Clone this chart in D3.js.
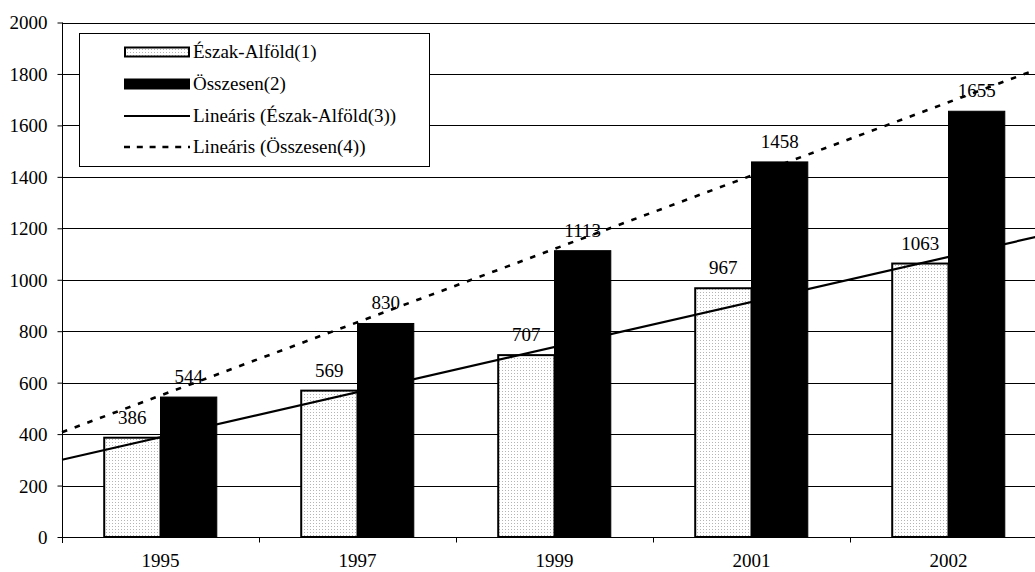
<!DOCTYPE html>
<html>
<head>
<meta charset="utf-8">
<script src="https://cdn.jsdelivr.net/npm/d3@7"></script>
<style>
  html, body { margin: 0; padding: 0; background: #fff; }
  svg { display: block; }
  text { font-family: "Liberation Serif", "Times New Roman", serif; fill: #000; }
</style>
</head>
<body>
<svg id="chart" width="1035" height="572"></svg>
<script>
// ---- data ----
const categories = ["1995", "1997", "1999", "2001", "2002"];
const eszakAlfold = [386, 569, 707, 967, 1063];
const osszesen = [544, 830, 1113, 1458, 1655];
const yTicks = [0, 200, 400, 600, 800, 1000, 1200, 1400, 1600, 1800, 2000];
const legendLabels = ["Észak-Alföld(1)", "Összesen(2)", "Lineáris (Észak-Alföld(3))", "Lineáris (Összesen(4))"];

// ---- layout ----
const plotLeft = 62, plotRight = 1047, plotTop = 22.5, plotBottom = 537;
const fontSize = 19;

const svg = d3.select("#chart");

const defs = svg.append("defs");
const pat = defs.append("pattern").attr("id", "dots").attr("patternUnits", "userSpaceOnUse")
  .attr("width", 3).attr("height", 3);
pat.append("rect").attr("width", 3).attr("height", 3).attr("fill", "#fff");
pat.append("rect").attr("x", 1).attr("y", 1).attr("width", 1).attr("height", 1).attr("fill", "#b4b4b4");

const x = d3.scaleBand().domain(categories).range([plotLeft, plotRight]).paddingInner(0).paddingOuter(0);
const bw = x.bandwidth();
const barW = bw / 3.5; // gap width 150%
const xs = d3.scaleBand().domain(["a", "b"]).range([bw / 2 - barW, bw / 2 + barW]);
const y = d3.scaleLinear().domain([0, 2000]).range([plotBottom, plotTop]);
const xIdx = d3.scaleLinear().domain([0.5, categories.length + 0.5]).range([plotLeft, plotRight]);

// gridlines
svg.append("g").selectAll("line").data(yTicks).join("line")
  .attr("x1", plotLeft).attr("x2", plotRight)
  .attr("y1", d => Math.round(y(d)) + 0.5).attr("y2", d => Math.round(y(d)) + 0.5)
  .attr("stroke", "#000").attr("stroke-width", 1);

// bars
const series = [
  { key: "a", values: eszakAlfold, fill: "url(#dots)", stroke: "#000", sw: 2 },
  { key: "b", values: osszesen, fill: "#000", stroke: "#000", sw: 1 }
];
series.forEach(s => {
  svg.append("g").selectAll("rect").data(s.values).join("rect")
    .attr("x", (d, i) => x(categories[i]) + xs(s.key))
    .attr("y", d => y(d))
    .attr("width", xs.bandwidth())
    .attr("height", d => y(0) - y(d))
    .attr("fill", s.fill).attr("stroke", s.stroke).attr("stroke-width", s.sw);
});

// linear trendlines (least squares over category index 1..n, as Excel does)
function linreg(vals) {
  const xsV = vals.map((_, i) => i + 1);
  const mx = d3.mean(xsV), my = d3.mean(vals);
  const b = d3.sum(vals, (v, i) => (xsV[i] - mx) * (v - my)) / d3.sum(xsV, xv => (xv - mx) ** 2);
  return t => my + b * (t - mx);
}
const trendDomain = [0.5, categories.length + 0.5];
const fA = linreg(eszakAlfold), fB = linreg(osszesen);
const line = d3.line().x(d => xIdx(d[0])).y(d => y(d[1]));
svg.append("path").datum(trendDomain.map(t => [t, fA(t)])).attr("d", line)
  .attr("fill", "none").attr("stroke", "#000").attr("stroke-width", 2.2);
svg.append("path").datum(trendDomain.map(t => [t, fB(t)])).attr("d", line)
  .attr("fill", "none").attr("stroke", "#000").attr("stroke-width", 2.6)
  .attr("stroke-dasharray", "5.5,8");

// value labels
series.forEach(s => {
  svg.append("g").selectAll("text").data(s.values).join("text")
    .attr("x", (d, i) => x(categories[i]) + xs(s.key) + xs.bandwidth() / 2)
    .attr("y", d => y(d) - 14)
    .attr("text-anchor", "middle").attr("font-size", fontSize)
    .text(d => d);
});

// y axis
const yAxis = svg.append("g").attr("transform", `translate(${plotLeft + 0.5},0)`)
  .call(d3.axisLeft(y).tickValues(yTicks).tickSize(5).tickPadding(10).tickFormat(d3.format("d")));
yAxis.select(".domain").attr("stroke", "#000").attr("d", `M0,${plotTop}V${plotBottom + 6}`);
yAxis.selectAll("line").attr("stroke", "#000");
yAxis.selectAll("text").attr("font-size", fontSize).attr("font-family", "Liberation Serif").attr("dy", "0.34em");

// x axis
const xAxis = svg.append("g").attr("transform", `translate(0,${Math.round(plotBottom) + 0.5})`)
  .call(d3.axisBottom(xIdx).tickValues(d3.range(0.5, categories.length + 1, 1)).tickSize(5).tickFormat(""));
xAxis.select(".domain").attr("stroke", "#000").attr("d", `M${plotLeft},0H${plotRight}`);
xAxis.selectAll("line").attr("stroke", "#000");
svg.append("g").selectAll("text").data(categories).join("text")
  .attr("x", d => x(d) + bw / 2).attr("y", 567)
  .attr("text-anchor", "middle").attr("font-size", fontSize).text(d => d);

// legend
const lg = svg.append("g");
lg.append("rect").attr("x", 79.5).attr("y", 33.5).attr("width", 350).attr("height", 133)
  .attr("fill", "#fff").attr("stroke", "#000").attr("stroke-width", 1);
const rowY = [52, 84, 116, 147];
const swX = 124, swW = 66;
legendLabels.forEach((lab, i) => {
  const cy = rowY[i];
  if (i === 0) {
    lg.append("rect").attr("x", swX + 1).attr("y", cy - 4.5).attr("width", swW - 2).attr("height", 9)
      .attr("fill", "url(#dots)").attr("stroke", "#000").attr("stroke-width", 2);
  } else if (i === 1) {
    lg.append("rect").attr("x", swX).attr("y", cy - 5.5).attr("width", swW).attr("height", 11).attr("fill", "#000");
  } else if (i === 2) {
    lg.append("line").attr("x1", swX).attr("x2", swX + swW).attr("y1", cy).attr("y2", cy)
      .attr("stroke", "#000").attr("stroke-width", 2.2);
  } else {
    lg.append("line").attr("x1", swX).attr("x2", swX + swW).attr("y1", cy).attr("y2", cy)
      .attr("stroke", "#000").attr("stroke-width", 2.6).attr("stroke-dasharray", "6,6.8");
  }
  lg.append("text").attr("x", 193).attr("y", cy).attr("dy", "0.34em")
    .attr("font-size", fontSize).text(lab);
});
</script>
</body>
</html>
